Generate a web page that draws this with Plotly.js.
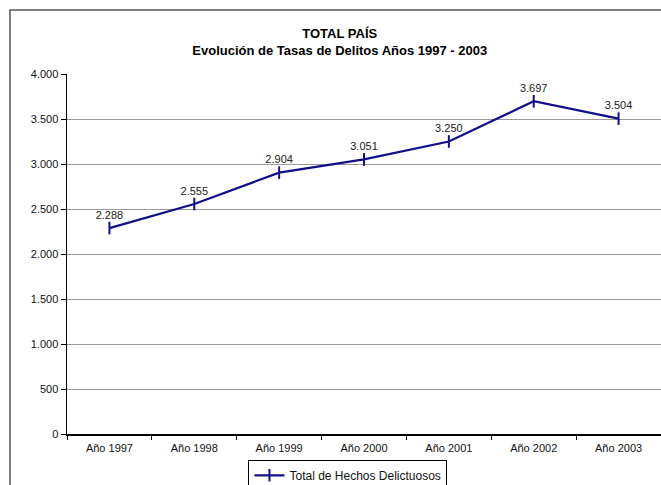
<!DOCTYPE html>
<html>
<head>
<meta charset="utf-8">
<script src="https://cdn.plot.ly/plotly-3.0.1.min.js"></script>
<style>html,body{margin:0;padding:0;background:#fff;}</style>
</head>
<body>
<div id="chart" style="width:661px;height:485px;"></div>
<script>
var categories = ["Año 1997", "Año 1998", "Año 1999", "Año 2000", "Año 2001", "Año 2002", "Año 2003"];
var totalHechos = [2288, 2555, 2904, 3051, 3250, 3697, 3504];
var yTickVals = [0, 500, 1000, 1500, 2000, 2500, 3000, 3500, 4000];
var seriesName = "Total de Hechos Delictuosos";

var trace = {
  x: categories,
  y: totalHechos,
  type: "scatter",
  mode: "lines+markers+text",
  name: seriesName,
  line: {color: "#10108a", width: 2.2},
  marker: {symbol: "line-ns-open", size: 9, color: "#10108a", line: {color: "#10108a", width: 2}},
  texttemplate: "%{y:,.0f}",
  textposition: "top center",
  textfont: {family: "Liberation Sans, Arial, sans-serif", size: 11, color: "#222"},
  cliponaxis: false
};

var layout = {
  width: 661, height: 485,
  margin: {l: 67, r: 0, t: 74, b: 51},
  paper_bgcolor: "#fff", plot_bgcolor: "#fff",
  separators: ",.",
  font: {family: "Liberation Sans, Arial, sans-serif", size: 11, color: "#111"},
  title: {
    text: "<b>TOTAL PAÍS<br>Evolución de Tasas de Delitos Años 1997 - 2003</b>",
    font: {size: 13, color: "#000"},
    xref: "container", x: 0.514, xanchor: "center",
    yref: "container", y: 0.921, yanchor: "top",
    automargin: false
  },
  xaxis: {
    type: "category",
    range: [-0.5, 6.5],
    showline: true, linecolor: "#000", linewidth: 1.5,
    ticks: "outside", ticklen: 4, tickcolor: "#000",
    tickson: "boundaries",
    ticklabelstandoff: 3,
    showgrid: false, zeroline: false,
    tickfont: {size: 11, color: "#111"}
  },
  yaxis: {
    range: [0, 4000],
    tickvals: yTickVals,
    tickformat: ",d",
    showline: true, linecolor: "#000", linewidth: 1.5,
    ticks: "outside", ticklen: 5, tickcolor: "#000",
    showgrid: true, gridcolor: "#9a9a9a", gridwidth: 1,
    zeroline: false,
    tickfont: {size: 11, color: "#111"}
  },
  showlegend: true,
  legend: {
    orientation: "h",
    xref: "paper", x: 0.473, xanchor: "center",
    yref: "container", y: 0.052, yanchor: "top",
    bordercolor: "#000", borderwidth: 1,
    itemwidth: 30,
    font: {size: 12, color: "#111"},
    bgcolor: "#fff"
  },
  shapes: [{
    type: "rect", xref: "paper", yref: "paper",
    x0: -0.096, x1: 1.02, y0: -0.2, y1: 1.178,
    line: {color: "#555", width: 1.5}, fillcolor: "rgba(0,0,0,0)", layer: "below"
  }]
};

Plotly.newPlot("chart", [trace], layout, {displayModeBar: false, staticPlot: true});
</script>
</body>
</html>
